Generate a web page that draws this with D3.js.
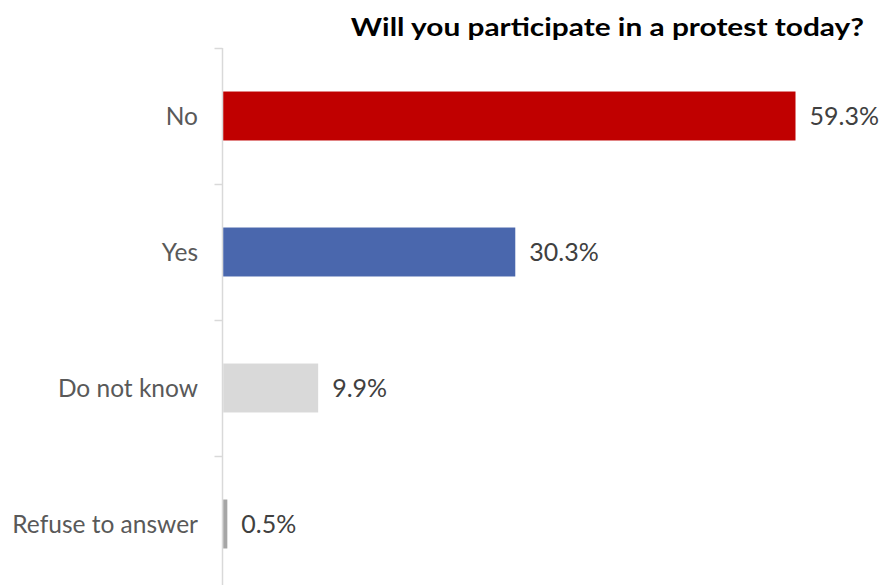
<!DOCTYPE html>
<html>
<head>
<meta charset="utf-8">
<script src="https://cdn.jsdelivr.net/npm/d3@7"></script>
<style>
  html, body { margin: 0; padding: 0; background: #fff; }
  svg { display: block; }
  text { font-family: Lato, "Open Sans", sans-serif; }
</style>
</head>
<body>
<div id="chart"></div>
<script>
const categories = ["No", "Yes", "Do not know", "Refuse to answer"];
const values = [59.3, 30.3, 9.9, 0.5];
const valueLabels = ["59.3%", "30.3%", "9.9%", "0.5%"];
const barColors = ["#C00000", "#4A67AD", "#D9D9D9", "#A6A6A6"];
const titleText = "Will you participate in a protest today?";

const W = 883, H = 585;
const margin = { left: 222.5, top: 48 };
const svg = d3.select("#chart").append("svg").attr("width", W).attr("height", H);

const x = d3.scaleLinear().domain([0, 59.3]).range([margin.left, 795.5]);
const y = d3.scaleBand().domain(categories).range([margin.top, margin.top + 136 * 4])
  .paddingInner(0.64).paddingOuter(0.32);

// axis ticks at band boundaries
const step = y.step();
const boundaries = d3.range(categories.length + 1).map(i => margin.top + i * step);
svg.append("g").selectAll("line.tick").data(boundaries).join("line")
  .attr("x1", margin.left - 8).attr("x2", margin.left)
  .attr("y1", d => d + 0.5).attr("y2", d => d + 0.5)
  .attr("stroke", "#D9D9D9").attr("stroke-width", 1.5);
svg.append("line")
  .attr("x1", margin.left).attr("x2", margin.left)
  .attr("y1", margin.top).attr("y2", H + 10)
  .attr("stroke", "#D9D9D9").attr("stroke-width", 1.5);

// bars
svg.append("g").selectAll("rect").data(values).join("rect")
  .attr("x", margin.left + 0.75)
  .attr("y", (d, i) => y(categories[i]))
  .attr("width", d => Math.max(0, x(d) - margin.left - 0.75))
  .attr("height", y.bandwidth())
  .attr("fill", (d, i) => barColors[i]);

function stretch(factor) {
  return sel => sel.each(function () {
    const w = this.getComputedTextLength();
    d3.select(this).attr("textLength", w * factor).attr("lengthAdjust", "spacingAndGlyphs");
  });
}

// category labels
svg.append("g").selectAll("text").data(categories).join("text")
  .attr("x", margin.left - 24.5)
  .attr("y", d => y(d) + y.bandwidth() / 2 + 8.5)
  .attr("text-anchor", "end")
  .attr("font-size", 24.5)
  .attr("fill", "#595959")
  .text(d => d)
  .call(stretch(1.0));

// value labels
svg.append("g").selectAll("text").data(values).join("text")
  .attr("x", d => x(d) + 14)
  .attr("y", (d, i) => y(categories[i]) + y.bandwidth() / 2 + 8.5)
  .attr("font-size", 24.5)
  .attr("fill", "#404040")
  .text((d, i) => valueLabels[i])
  .call(stretch(1.02));

// title
const title = svg.append("text")
  .attr("x", 864).attr("y", 36)
  .attr("text-anchor", "end")
  .attr("font-size", 25.5)
  .attr("font-weight", "bold")
  .attr("fill", "#000")
  .text(titleText);
title.each(function () {
  const w = this.getComputedTextLength();
  d3.select(this).attr("textLength", w * 1.17).attr("lengthAdjust", "spacingAndGlyphs");
});
</script>
</body>
</html>
